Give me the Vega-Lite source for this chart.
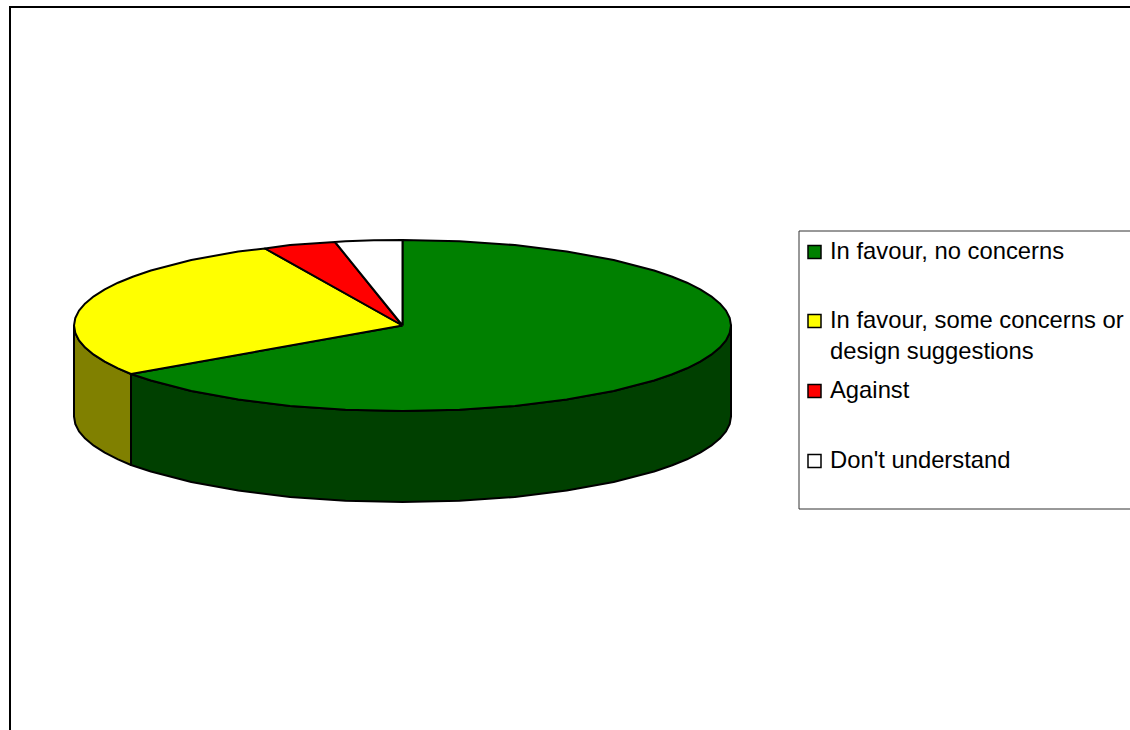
{"$schema":"https://vega.github.io/schema/vega-lite/v6.json","width":1130,"height":730,"autosize":{"type":"none"},"padding":0,"background":"white","view":{"stroke":null},
"datasets":{
"frame":[{"i":1,"x":1130,"y":7},{"i":2,"x":10,"y":7},{"i":3,"x":10,"y":730}],
"box":[{"x":799,"x2":1140,"y":231,"y2":509}],
"keys":[{"name":"In favour, no concerns","x":814.5,"y":252},{"name":"In favour, some concerns or design suggestions","x":814.5,"y":321},{"name":"Against","x":814.5,"y":391},{"name":"Don't understand","x":814.5,"y":461}],
"labels":[{"label":"In favour, no concerns","x":830,"y":259},{"label":"In favour, some concerns or","x":830,"y":328},{"label":"design suggestions","x":830,"y":359},{"label":"Against","x":830,"y":398},{"label":"Don't understand","x":830,"y":468}],
"pie":[
{"face":"green wall","i":1,"x":131,"y":374},{"face":"green wall","i":2,"x":150.9,"y":380.5},{"face":"green wall","i":3,"x":191.3,"y":391},{"face":"green wall","i":4,"x":238.3,"y":399.5},{"face":"green wall","i":5,"x":290.1,"y":405.9},{"face":"green wall","i":6,"x":345.5,"y":409.7},{"face":"green wall","i":7,"x":402.5,"y":411},{"face":"green wall","i":8,"x":459.5,"y":409.7},{"face":"green wall","i":9,"x":514.9,"y":405.9},{"face":"green wall","i":10,"x":566.7,"y":399.5},{"face":"green wall","i":11,"x":613.7,"y":391},{"face":"green wall","i":12,"x":654.1,"y":380.5},{"face":"green wall","i":12.5,"x":671.6,"y":374.5},{"face":"green wall","i":13,"x":687,"y":368.3},{"face":"green wall","i":13.5,"x":700.2,"y":361.6},{"face":"green wall","i":14,"x":711.2,"y":354.7},{"face":"green wall","i":14.5,"x":719.8,"y":347.6},{"face":"green wall","i":15,"x":726,"y":340.4},{"face":"green wall","i":15.5,"x":729.7,"y":333},{"face":"green wall","i":16,"x":731,"y":325.5},{"face":"green wall","i":17,"x":731,"y":416.5},{"face":"green wall","i":17.5,"x":729.7,"y":424},{"face":"green wall","i":18,"x":726,"y":431.4},{"face":"green wall","i":18.5,"x":719.8,"y":438.6},{"face":"green wall","i":19,"x":711.2,"y":445.7},{"face":"green wall","i":19.5,"x":700.2,"y":452.6},{"face":"green wall","i":20,"x":687,"y":459.3},{"face":"green wall","i":20.5,"x":671.6,"y":465.5},{"face":"green wall","i":21,"x":654.1,"y":471.5},{"face":"green wall","i":22,"x":613.7,"y":482},{"face":"green wall","i":23,"x":566.7,"y":490.5},{"face":"green wall","i":24,"x":514.9,"y":496.9},{"face":"green wall","i":25,"x":459.5,"y":500.7},{"face":"green wall","i":26,"x":402.5,"y":502},{"face":"green wall","i":27,"x":345.5,"y":500.7},{"face":"green wall","i":28,"x":290.1,"y":496.9},{"face":"green wall","i":29,"x":238.3,"y":490.5},{"face":"green wall","i":30,"x":191.3,"y":482},{"face":"green wall","i":31,"x":150.9,"y":471.5},{"face":"green wall","i":32,"x":131,"y":465},{"face":"green wall","i":33,"x":131,"y":374},
{"face":"yellow wall","i":1,"x":74,"y":325.5},{"face":"yellow wall","i":1.5,"x":75.3,"y":333},{"face":"yellow wall","i":2,"x":79,"y":340.4},{"face":"yellow wall","i":2.5,"x":85.2,"y":347.6},{"face":"yellow wall","i":3,"x":93.8,"y":354.7},{"face":"yellow wall","i":3.5,"x":104.8,"y":361.6},{"face":"yellow wall","i":4,"x":118,"y":368.3},{"face":"yellow wall","i":5,"x":131,"y":374},{"face":"yellow wall","i":6,"x":131,"y":465},{"face":"yellow wall","i":7,"x":118,"y":459.3},{"face":"yellow wall","i":7.5,"x":104.8,"y":452.6},{"face":"yellow wall","i":8,"x":93.8,"y":445.7},{"face":"yellow wall","i":8.5,"x":85.2,"y":438.6},{"face":"yellow wall","i":9,"x":79,"y":431.4},{"face":"yellow wall","i":9.5,"x":75.3,"y":424},{"face":"yellow wall","i":10,"x":74,"y":416.5},{"face":"yellow wall","i":11,"x":74,"y":325.5},
{"face":"In favour, no concerns","i":1,"x":402.5,"y":325.5},{"face":"In favour, no concerns","i":2,"x":402.5,"y":240},{"face":"In favour, no concerns","i":3,"x":459.5,"y":241.3},{"face":"In favour, no concerns","i":4,"x":514.9,"y":245.1},{"face":"In favour, no concerns","i":5,"x":566.7,"y":251.5},{"face":"In favour, no concerns","i":6,"x":613.7,"y":260},{"face":"In favour, no concerns","i":7,"x":654.1,"y":270.5},{"face":"In favour, no concerns","i":7.5,"x":671.6,"y":276.5},{"face":"In favour, no concerns","i":8,"x":687,"y":282.7},{"face":"In favour, no concerns","i":8.5,"x":700.2,"y":289.4},{"face":"In favour, no concerns","i":9,"x":711.2,"y":296.3},{"face":"In favour, no concerns","i":9.5,"x":719.8,"y":303.4},{"face":"In favour, no concerns","i":10,"x":726,"y":310.6},{"face":"In favour, no concerns","i":10.5,"x":729.7,"y":318},{"face":"In favour, no concerns","i":11,"x":731,"y":325.5},{"face":"In favour, no concerns","i":11.5,"x":729.7,"y":333},{"face":"In favour, no concerns","i":12,"x":726,"y":340.4},{"face":"In favour, no concerns","i":12.5,"x":719.8,"y":347.6},{"face":"In favour, no concerns","i":13,"x":711.2,"y":354.7},{"face":"In favour, no concerns","i":13.5,"x":700.2,"y":361.6},{"face":"In favour, no concerns","i":14,"x":687,"y":368.3},{"face":"In favour, no concerns","i":14.5,"x":671.6,"y":374.5},{"face":"In favour, no concerns","i":15,"x":654.1,"y":380.5},{"face":"In favour, no concerns","i":16,"x":613.7,"y":391},{"face":"In favour, no concerns","i":17,"x":566.7,"y":399.5},{"face":"In favour, no concerns","i":18,"x":514.9,"y":405.9},{"face":"In favour, no concerns","i":19,"x":459.5,"y":409.7},{"face":"In favour, no concerns","i":20,"x":402.5,"y":411},{"face":"In favour, no concerns","i":21,"x":345.5,"y":409.7},{"face":"In favour, no concerns","i":22,"x":290.1,"y":405.9},{"face":"In favour, no concerns","i":23,"x":238.3,"y":399.5},{"face":"In favour, no concerns","i":24,"x":191.3,"y":391},{"face":"In favour, no concerns","i":25,"x":150.9,"y":380.5},{"face":"In favour, no concerns","i":26,"x":131,"y":374},{"face":"In favour, no concerns","i":27,"x":402.5,"y":325.5},
{"face":"In favour, some concerns or design suggestions","i":1,"x":402.5,"y":325.5},{"face":"In favour, some concerns or design suggestions","i":2,"x":131,"y":374},{"face":"In favour, some concerns or design suggestions","i":3,"x":118,"y":368.3},{"face":"In favour, some concerns or design suggestions","i":3.5,"x":104.8,"y":361.6},{"face":"In favour, some concerns or design suggestions","i":4,"x":93.8,"y":354.7},{"face":"In favour, some concerns or design suggestions","i":4.5,"x":85.2,"y":347.6},{"face":"In favour, some concerns or design suggestions","i":5,"x":79,"y":340.4},{"face":"In favour, some concerns or design suggestions","i":5.5,"x":75.3,"y":333},{"face":"In favour, some concerns or design suggestions","i":6,"x":74,"y":325.5},{"face":"In favour, some concerns or design suggestions","i":6.5,"x":75.3,"y":318},{"face":"In favour, some concerns or design suggestions","i":7,"x":79,"y":310.6},{"face":"In favour, some concerns or design suggestions","i":7.5,"x":85.2,"y":303.4},{"face":"In favour, some concerns or design suggestions","i":8,"x":93.8,"y":296.3},{"face":"In favour, some concerns or design suggestions","i":8.5,"x":104.8,"y":289.4},{"face":"In favour, some concerns or design suggestions","i":9,"x":118,"y":282.7},{"face":"In favour, some concerns or design suggestions","i":9.5,"x":133.4,"y":276.5},{"face":"In favour, some concerns or design suggestions","i":10,"x":150.9,"y":270.5},{"face":"In favour, some concerns or design suggestions","i":11,"x":191.3,"y":260},{"face":"In favour, some concerns or design suggestions","i":12,"x":238.3,"y":251.5},{"face":"In favour, some concerns or design suggestions","i":13,"x":265,"y":248.5},{"face":"In favour, some concerns or design suggestions","i":14,"x":402.5,"y":325.5},
{"face":"Against","i":1,"x":402.5,"y":325.5},{"face":"Against","i":2,"x":265,"y":248.5},{"face":"Against","i":3,"x":290.1,"y":245.1},{"face":"Against","i":4,"x":335,"y":242},{"face":"Against","i":5,"x":402.5,"y":325.5},
{"face":"Don't understand","i":1,"x":402.5,"y":325.5},{"face":"Don't understand","i":2,"x":335,"y":242},{"face":"Don't understand","i":3,"x":345.5,"y":241.3},{"face":"Don't understand","i":4,"x":373.9,"y":240.3},{"face":"Don't understand","i":5,"x":402.5,"y":240},{"face":"Don't understand","i":6,"x":402.5,"y":325.5}
]},
"encoding":{"x":{"field":"x","type":"quantitative","scale":{"domain":[0,1130]},"axis":null},"y":{"field":"y","type":"quantitative","scale":{"domain":[730,0]},"axis":null}},
"layer":[
{"data":{"name":"frame"},"mark":{"type":"line","stroke":"black","strokeWidth":2,"strokeJoin":"miter"},"encoding":{"order":{"field":"i"}}},
{"data":{"name":"pie"},"mark":{"type":"line","stroke":"black","strokeWidth":2,"strokeJoin":"round"},"encoding":{"order":{"field":"i"},"detail":{"field":"face"},"fill":{"field":"face","type":"nominal","legend":null,"scale":{"domain":["green wall","yellow wall","In favour, no concerns","In favour, some concerns or design suggestions","Against","Don't understand"],"range":["#004000","#808000","#008000","#ffff00","#ff0000","#ffffff"]}}}},
{"data":{"name":"box"},"mark":{"type":"rect","fill":"white","stroke":"#333333","strokeWidth":1,"clip":true},"encoding":{"x2":{"field":"x2"},"y2":{"field":"y2"}}},
{"data":{"name":"keys"},"mark":{"type":"point","shape":"square","filled":true,"size":169,"stroke":"black","strokeWidth":1.5,"opacity":1},"encoding":{"fill":{"field":"name","type":"nominal","legend":null,"scale":{"domain":["In favour, no concerns","In favour, some concerns or design suggestions","Against","Don't understand"],"range":["#008000","#ffff00","#ff0000","#ffffff"]}}}},
{"data":{"name":"labels"},"mark":{"type":"text","align":"left","baseline":"alphabetic","font":"Liberation Sans","fontSize":23.8,"fill":"black"},"encoding":{"text":{"field":"label"}}}
]}
